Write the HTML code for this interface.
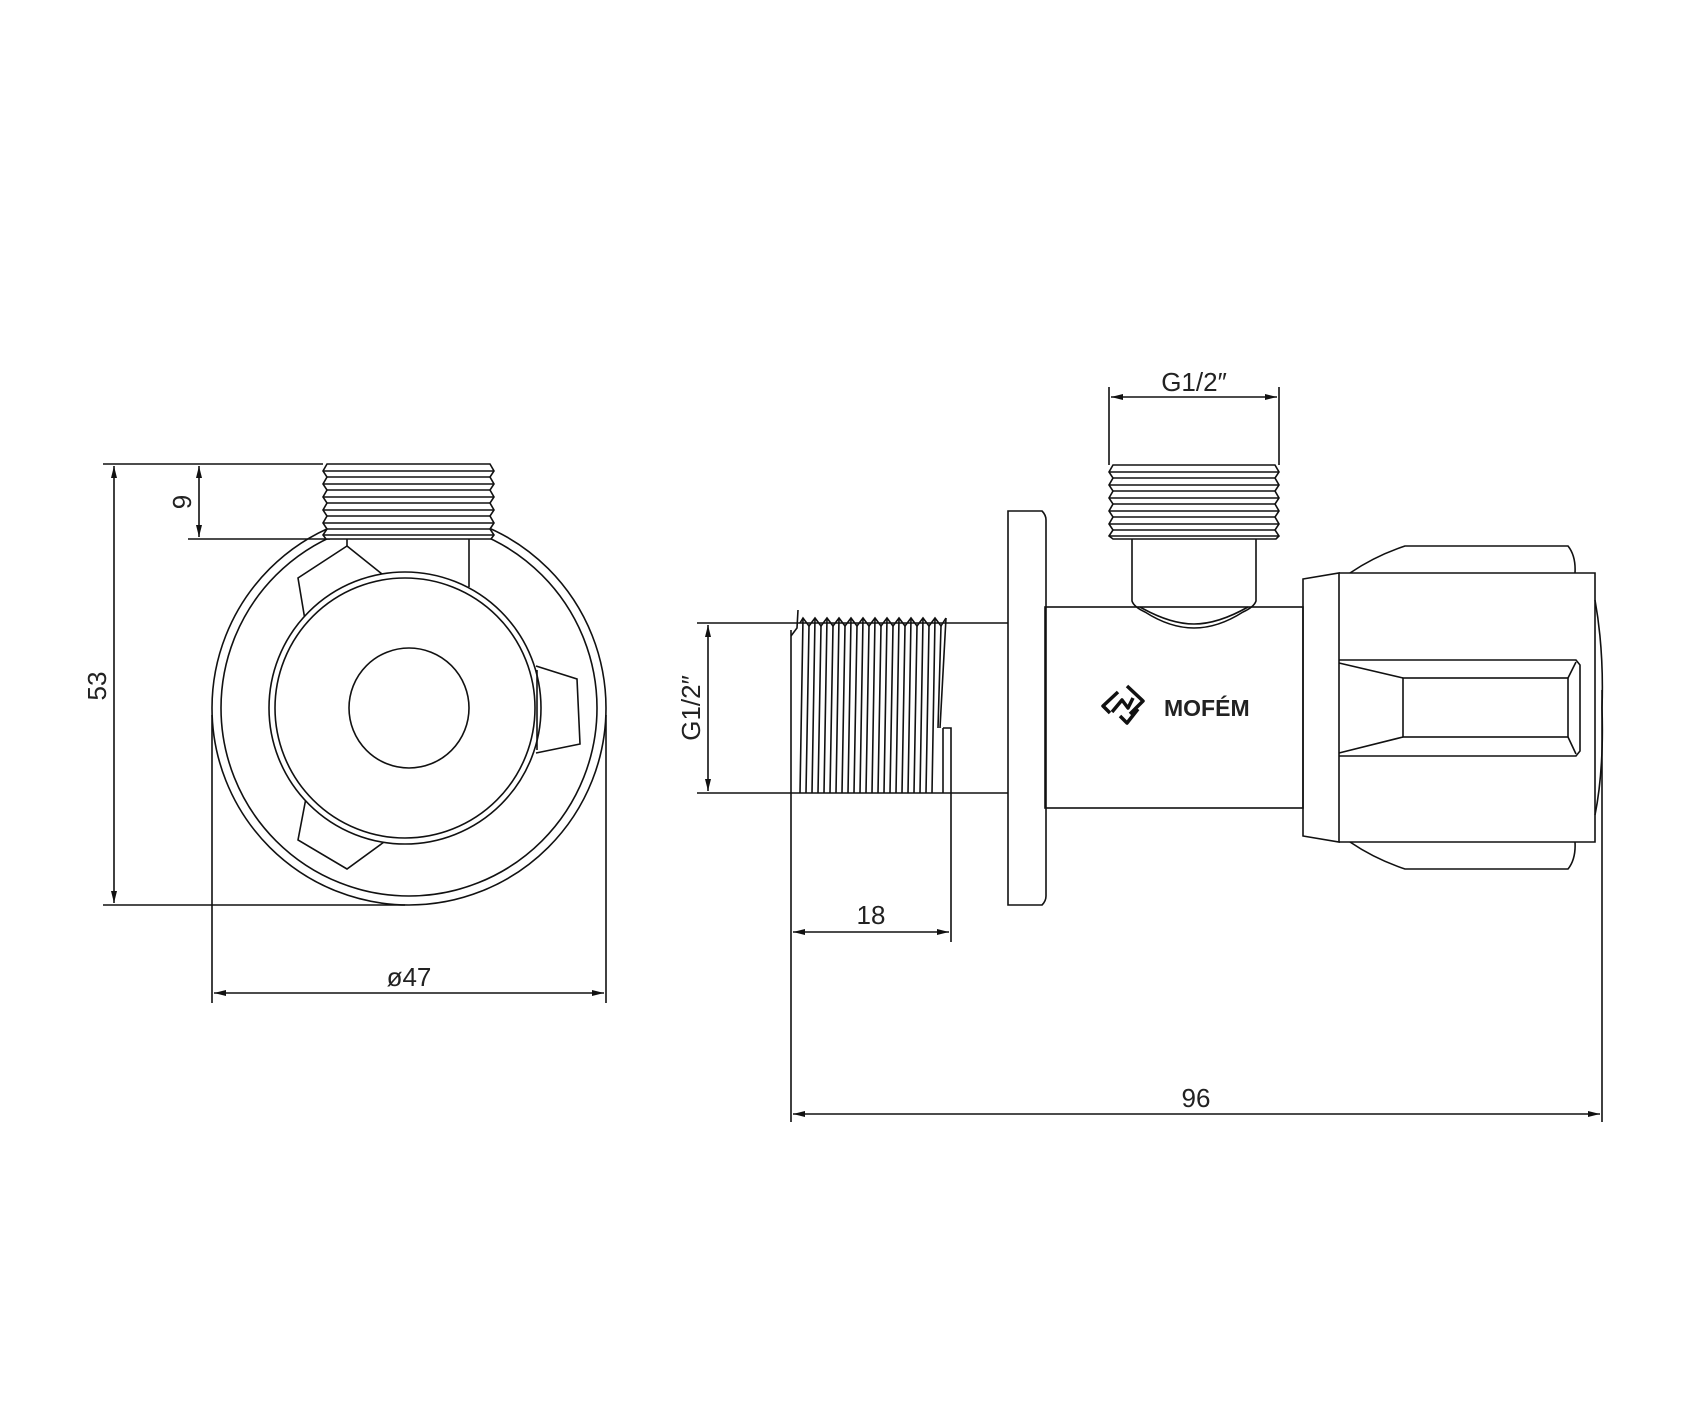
<!DOCTYPE html>
<html><head><meta charset="utf-8"><style>
html,body{margin:0;padding:0;background:#fff;}
svg{display:block;}
text{font-family:"Liberation Sans",sans-serif;fill:#222;}
</style></head><body>
<svg width="1700" height="1404" viewBox="0 0 1700 1404" xmlns="http://www.w3.org/2000/svg">
<defs>
<marker id="a" viewBox="0 0 12 6" refX="12" refY="3" markerWidth="12" markerHeight="6" orient="auto-start-reverse" markerUnits="userSpaceOnUse"><path d="M0,0 L12,3 L0,6 z" fill="#111"/></marker>
</defs>
<g stroke="#111" stroke-width="1.6" fill="none">
<!-- LEFT VIEW -->
<line x1="103" y1="464" x2="323" y2="464"/>
<line x1="103" y1="905" x2="405" y2="905"/>
<line x1="114" y1="466" x2="114" y2="903" marker-start="url(#a)" marker-end="url(#a)"/>
<line x1="188" y1="539" x2="330" y2="539"/>
<line x1="199" y1="466" x2="199" y2="537" marker-start="url(#a)" marker-end="url(#a)"/>
<line x1="212" y1="715" x2="212" y2="1003"/>
<line x1="606" y1="715" x2="606" y2="1003"/>
<line x1="214" y1="993" x2="604" y2="993" marker-start="url(#a)" marker-end="url(#a)"/>
<circle cx="409" cy="708" r="197"/>
<circle cx="409" cy="708" r="188"/>
<!-- top thread -->
<path fill="#fff" d="M327,464 L490,464 L494,471 L490,477 L494,484 L490,490 L494,497 L490,503 L494,510 L490,516 L494,523 L490,529 L494,535 L491,539 L326,539 L323,535 L327,529 L323,523 L327,516 L323,510 L327,503 L323,497 L327,490 L323,484 L327,477 L323,471 Z"/>
<line x1="327" y1="477" x2="490" y2="477"/><line x1="327" y1="490" x2="490" y2="490"/><line x1="327" y1="503" x2="490" y2="503"/><line x1="327" y1="516" x2="490" y2="516"/><line x1="327" y1="529" x2="490" y2="529"/>
<line x1="323" y1="471" x2="494" y2="471"/><line x1="323" y1="484" x2="494" y2="484"/><line x1="323" y1="497" x2="494" y2="497"/><line x1="323" y1="510" x2="494" y2="510"/><line x1="323" y1="523" x2="494" y2="523"/><line x1="323" y1="535" x2="494" y2="535"/>
<line x1="469" y1="539" x2="469" y2="587"/>
<line x1="347" y1="539" x2="347" y2="546"/>
<!-- wings (behind hub) -->
<path d="M347,546 L382,574 M347,546 L298,578 L305,620"/>
<path d="M536,666 L577,679 L580,744 L536,753"/>
<path d="M306,798 L298,840 L347,869 L384,842"/>
<!-- hub -->
<circle cx="405" cy="708" r="136" fill="#fff"/>
<circle cx="405" cy="708" r="130"/>
<circle cx="409" cy="708" r="60"/>
<line x1="537" y1="670" x2="537" y2="750"/>
<!-- RIGHT VIEW -->
<line x1="1109" y1="387" x2="1109" y2="465"/>
<line x1="1279" y1="387" x2="1279" y2="465"/>
<line x1="1111" y1="397" x2="1277" y2="397" marker-start="url(#a)" marker-end="url(#a)"/>
<!-- top thread -->
<path d="M1113,465 L1275,465 L1279,472 L1275,478 L1279,485 L1275,491 L1279,498 L1275,504 L1279,511 L1275,517 L1279,524 L1275,530 L1279,536 L1276,539 L1113,539 L1109,536 L1113,530 L1109,524 L1113,517 L1109,511 L1113,504 L1109,498 L1113,491 L1109,485 L1113,478 L1109,472 Z"/>
<line x1="1113" y1="478" x2="1275" y2="478"/><line x1="1113" y1="491" x2="1275" y2="491"/><line x1="1113" y1="504" x2="1275" y2="504"/><line x1="1113" y1="517" x2="1275" y2="517"/><line x1="1113" y1="530" x2="1275" y2="530"/>
<line x1="1109" y1="472" x2="1279" y2="472"/><line x1="1109" y1="485" x2="1279" y2="485"/><line x1="1109" y1="498" x2="1279" y2="498"/><line x1="1109" y1="511" x2="1279" y2="511"/><line x1="1109" y1="524" x2="1279" y2="524"/><line x1="1109" y1="536" x2="1279" y2="536"/>
<!-- neck -->
<path d="M1132,539 L1132,601 Q1134,607 1145,612 Q1170,628 1194,628 Q1218,628 1243,612 Q1254,607 1256,601 L1256,539"/>
<path d="M1140,607 Q1170,624 1194,624 Q1218,624 1248,607"/>
<!-- body -->
<rect x="1045" y="607" width="258" height="201"/>
<!-- flange -->
<path d="M1008,511 L1042,511 Q1046,515 1046,520 L1046,896 Q1046,901 1042,905 L1008,905 Z"/>
<!-- pipe -->
<line x1="697" y1="623" x2="1008" y2="623"/>
<line x1="697" y1="793" x2="1008" y2="793"/>
<line x1="791" y1="630" x2="791" y2="793"/>
<path d="M791,636 L797,628 L798,610"/>
<path d="M943,728 L951,728 L951,793 M943,728 L943,793"/>
<path d="M800,623 L803,618 L809,626 L815,618 L821,626 L827,618 L833,626 L839,618 L845,626 L851,618 L857,626 L863,618 L869,626 L875,618 L881,626 L887,618 L893,626 L899,618 L905,626 L911,618 L917,626 L923,618 L929,626 L935,618 L941,626 L946,618"/>
<path d="M803,618 L800,793 M815,618 L812,793 M827,618 L824,793 M839,618 L836,793 M851,618 L848,793 M863,618 L860,793 M875,618 L872,793 M887,618 L884,793 M899,618 L896,793 M911,618 L908,793 M923,618 L920,793 M935,618 L932,793 M946,618 L940,728"/>
<path d="M809,626 L806,793 M821,626 L818,793 M833,626 L830,793 M845,626 L842,793 M857,626 L854,793 M869,626 L866,793 M881,626 L878,793 M893,626 L890,793 M905,626 L902,793 M917,626 L914,793 M929,626 L926,793 M941,626 L938,728"/>
<line x1="708" y1="625" x2="708" y2="791" marker-start="url(#a)" marker-end="url(#a)"/>
<!-- 18 / 96 dims -->
<line x1="791" y1="793" x2="791" y2="1122"/>
<line x1="793" y1="932" x2="949" y2="932" marker-start="url(#a)" marker-end="url(#a)"/>
<line x1="951" y1="793" x2="951" y2="942"/>
<line x1="1602" y1="690" x2="1602" y2="1122"/>
<line x1="793" y1="1114" x2="1600" y2="1114" marker-start="url(#a)" marker-end="url(#a)"/>
<!-- handle -->
<path d="M1303,579 L1339,573 L1339,842 L1303,836 Z"/>
<path d="M1339,573 L1595,573 L1595,842 L1339,842"/>
<path d="M1350,573 Q1375,556 1405,546 L1568,546 Q1576,556 1575,573"/>
<path d="M1350,842 Q1375,859 1405,869 L1568,869 Q1576,859 1575,842"/>
<path d="M1339,660 L1576,660 L1580,665 L1580,751 L1576,756 L1339,756"/>
<rect x="1403" y="678" width="165" height="59"/>
<path d="M1339,663 L1403,678 M1339,753 L1403,737 M1568,678 L1576,662 M1568,737 L1576,754"/>
<path d="M1595,600 Q1604,650 1602,708 Q1604,770 1595,815"/>
</g>
<!-- logo -->
<g stroke="#111" stroke-width="3.5" fill="none" stroke-linejoin="round">
<path d="M1118,692 L1103,706 L1110,713 M1127,686 L1143,701 L1130,714 M1112,712 L1122,700 L1128,708 L1133,698 M1138,709 L1127,723 L1120,716"/>
</g>
<text x="1164" y="716" font-size="23" font-weight="bold" fill="#111">MOFÉM</text>
<!-- labels -->
<text x="409" y="986" font-size="26" text-anchor="middle">ø47</text>
<text x="0" y="0" font-size="26" text-anchor="middle" transform="translate(106,686) rotate(-90)">53</text>
<text x="0" y="0" font-size="26" text-anchor="middle" transform="translate(191,502) rotate(-90)">9</text>
<text x="0" y="0" font-size="26" text-anchor="middle" transform="translate(700,708) rotate(-90)">G1/2″</text>
<text x="1194" y="391" font-size="26" text-anchor="middle">G1/2″</text>
<text x="871" y="924" font-size="26" text-anchor="middle">18</text>
<text x="1196" y="1107" font-size="26" text-anchor="middle">96</text>
</svg>
</body></html>
